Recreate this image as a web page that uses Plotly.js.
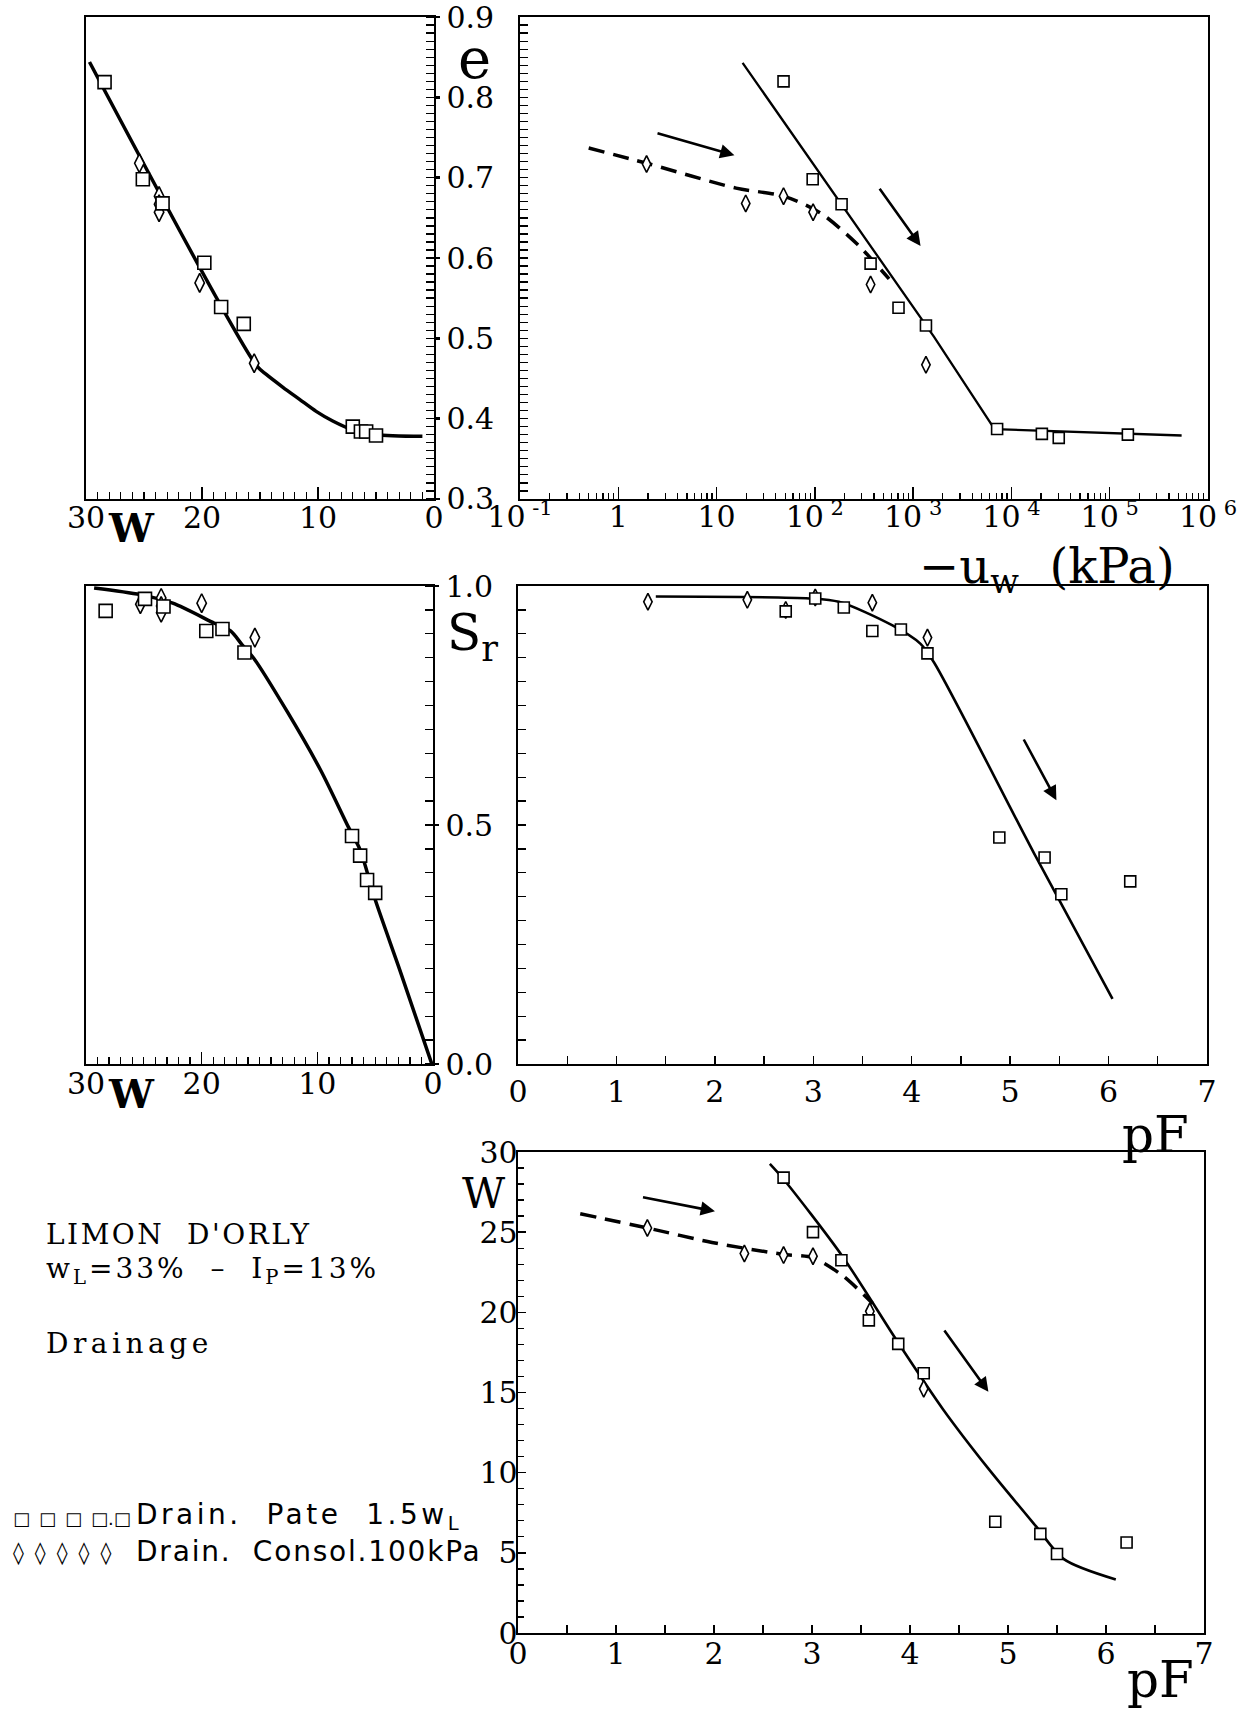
<!DOCTYPE html>
<html><head><meta charset="utf-8">
<script src="https://cdn.plot.ly/plotly-3.0.1.min.js"></script>
<style>html,body{margin:0;padding:0;background:#fff;} #chart{width:1247px;height:1712px;}</style>
</head><body><div id="chart"></div>
<script>
// ---------- Panel A : e vs w ----------
const A_sq_w = [28.4, 25.1, 23.4, 19.8, 18.35, 16.4, 7.0, 6.3, 5.85, 5.0];
const A_sq_e = [0.819, 0.698, 0.668, 0.594, 0.539, 0.518, 0.390, 0.384, 0.384, 0.379];
const A_di_w = [25.4, 23.7, 23.7, 23.7, 20.2, 15.5];
const A_di_e = [0.718, 0.677, 0.667, 0.657, 0.569, 0.469];
const A_fit_w = [29.7, 15.3, 14.46, 13.02, 11.59, 10.16, 8.73, 7.01, 5.01, 1.0];
const A_fit_e = [0.844, 0.466, 0.455, 0.439, 0.424, 0.409, 0.397, 0.386, 0.380, 0.378];
const e_tickvals = [0.3, 0.4, 0.5, 0.6, 0.7, 0.8, 0.9];
const e_ticktext = ["0.3", "0.4", "0.5", "0.6", "0.7", "0.8", "0.9"];
// ---------- Panel B : e vs -uw (kPa) ----------
const B_sq_u = [48, 95, 187, 369, 710, 1350, 7150, 20400, 30300, 153000];
const B_sq_e = [0.820, 0.698, 0.667, 0.593, 0.538, 0.516, 0.387, 0.381, 0.376, 0.380];
const B_di_u = [1.94, 19.8, 48, 96, 369, 1350];
const B_di_e = [0.717, 0.668, 0.677, 0.657, 0.567, 0.467];
const B_fit_u = [18.4, 1626, 6730, 539000];
const B_fit_e = [0.843, 0.502, 0.387, 0.379];
const B_dash_u = [0.50, 1.94, 15.8, 48, 114, 271, 569];
const B_dash_e = [0.737, 0.718, 0.687, 0.677, 0.656, 0.617, 0.574];
const B_tickvals = [0.1, 1, 10, 100, 1000, 10000, 100000, 1000000];
const B_ticktext = ["10<sup> -1</sup>", "1", "10", "10<sup> 2</sup>", "10<sup> 3</sup>", "10<sup> 4</sup>", "10<sup> 5</sup>", "10<sup> 6</sup>"];
// arrows [tail u, tail e, head u, head e]
const B_arrow1 = [2.42, 0.756, 15.2, 0.728];
const B_arrow2 = [445, 0.688, 1190, 0.615];
// ---------- Panel C : Sr vs w ----------
const C_sq_w = [28.3, 24.9, 23.3, 19.6, 18.2, 16.3, 7.0, 6.3, 5.7, 5.0];
const C_sq_sr = [0.948, 0.973, 0.957, 0.906, 0.910, 0.861, 0.477, 0.436, 0.385, 0.358];
const C_di_w = [25.3, 23.5, 23.5, 23.5, 20.0, 15.4];
const C_di_sr = [0.962, 0.975, 0.958, 0.944, 0.964, 0.892];
const C_fit_w = [29.3, 25.3, 22.5, 18.9, 17.5, 16.5, 15.5, 12.6, 9.7, 7.3, 6.3, 5.0, 2.86, 0.1];
const C_fit_sr = [0.996, 0.982, 0.964, 0.922, 0.906, 0.877, 0.849, 0.737, 0.614, 0.495, 0.448, 0.344, 0.196, 0.0];
const sr_tickvals = [0, 0.5, 1.0];
// ---------- Panel D : Sr vs pF ----------
const D_sq_pf = [2.72, 3.02, 3.31, 3.60, 3.89, 4.16, 4.89, 5.35, 5.52, 6.22];
const D_sq_sr = [0.947, 0.974, 0.955, 0.906, 0.909, 0.859, 0.474, 0.432, 0.355, 0.382];
const D_di_pf = [1.32, 2.33, 2.72, 3.02, 3.60, 4.16];
const D_di_sr = [0.967, 0.971, 0.950, 0.976, 0.965, 0.892];
const D_fit_pf = [1.40, 2.96, 3.26, 3.80, 4.09, 4.23, 5.25, 6.04];
const D_fit_sr = [0.978, 0.974, 0.967, 0.918, 0.879, 0.839, 0.438, 0.136];
const D_arrow = [5.13, 0.682, 5.47, 0.552];
// ---------- Panel E : W vs pF ----------
const E_sq_pf = [2.71, 3.01, 3.30, 3.58, 3.88, 4.14, 4.87, 5.33, 5.50, 6.21];
const E_sq_w = [28.4, 25.0, 23.25, 19.5, 18.03, 16.2, 6.94, 6.18, 4.93, 5.64];
const E_di_pf = [1.32, 2.31, 2.71, 3.01, 3.59, 4.14];
const E_di_w = [25.26, 23.67, 23.57, 23.5, 20.06, 15.23];
const E_fit_pf = [2.57, 2.71, 3.31, 3.88, 4.34, 4.80, 5.28, 5.57, 6.10];
const E_fit_w = [29.26, 28.3, 23.5, 18.1, 13.93, 10.25, 6.70, 4.61, 3.34];
const E_dash_pf = [0.635, 1.32, 1.98, 2.70, 3.01, 3.31, 3.62];
const E_dash_w = [26.15, 25.26, 24.36, 23.62, 23.4, 22.3, 20.55];
const E_arrow1 = [1.26, 27.2, 2.01, 26.3];
const E_arrow2 = [4.34, 18.96, 4.80, 15.04];

// ---------- helpers ----------
const SERIF = 'DejaVu Serif, Liberation Serif, serif';
const SANS = 'DejaVu Sans, Liberation Sans, sans-serif';
function markers(x, y, xa, ya, symbol, size) {
  return {type: 'scatter', mode: 'markers', x: x, y: y, xaxis: xa, yaxis: ya,
    marker: {symbol: symbol, size: size, color: '#fff', line: {color: '#000', width: 1.6}},
    showlegend: false, hoverinfo: 'skip', cliponaxis: false};
}
function curve(x, y, xa, ya, width, dash, shape) {
  return {type: 'scatter', mode: 'lines', x: x, y: y, xaxis: xa, yaxis: ya,
    line: {color: '#000', width: width, dash: dash || 'solid', shape: shape || 'linear', smoothing: 0.8},
    showlegend: false, hoverinfo: 'skip'};
}
function arrow(a, xr, yr, logx) {
  const f = v => logx ? Math.log10(v) : v;
  return {x: f(a[2]), y: a[3], ax: f(a[0]), ay: a[1], xref: xr, yref: yr, axref: xr, ayref: yr,
    showarrow: true, arrowhead: 2, arrowsize: 1.1, arrowwidth: 2.6, arrowcolor: '#000', text: ''};
}
const base = {showline: true, linecolor: '#000', linewidth: 2.4, mirror: true, showgrid: false, zeroline: false,
  ticklabeloverflow: 'allow',
  tickcolor: '#000', tickwidth: 1.5, tickfont: {family: SERIF, size: 30, color: '#000'}};
function ax(o) { return Object.assign({}, base, o); }
function minor(dtick, len, ticks) { return {ticks: ticks || 'inside', dtick: dtick, ticklen: len, tickcolor: '#000', tickwidth: 1.3, showgrid: false}; }

const dashPat = '16px,9px';
const data = [
  // A
  curve(A_fit_w, A_fit_e, 'x', 'y', 3.5, 'solid', 'spline'),
  markers(A_di_w, A_di_e, 'x', 'y', 'diamond-tall', 13.5),
  markers(A_sq_w, A_sq_e, 'x', 'y', 'square', 13),
  // B
  curve(B_fit_u, B_fit_e, 'x2', 'y2', 2.3),
  curve(B_dash_u, B_dash_e, 'x2', 'y2', 3.5, dashPat, 'spline'),
  markers(B_di_u, B_di_e, 'x2', 'y2', 'diamond-tall', 12),
  markers(B_sq_u, B_sq_e, 'x2', 'y2', 'square', 11),
  // C
  curve(C_fit_w, C_fit_sr, 'x3', 'y3', 3.5, 'solid', 'spline'),
  markers(C_di_w, C_di_sr, 'x3', 'y3', 'diamond-tall', 13.5),
  markers(C_sq_w, C_sq_sr, 'x3', 'y3', 'square', 13),
  // D
  curve(D_fit_pf, D_fit_sr, 'x4', 'y4', 2.6, 'solid', 'spline'),
  markers(D_di_pf, D_di_sr, 'x4', 'y4', 'diamond-tall', 12),
  markers(D_sq_pf, D_sq_sr, 'x4', 'y4', 'square', 11),
  // E
  curve(E_fit_pf, E_fit_w, 'x5', 'y5', 2.6, 'solid', 'spline'),
  curve(E_dash_pf, E_dash_w, 'x5', 'y5', 3.5, dashPat, 'spline'),
  markers(E_di_pf, E_di_w, 'x5', 'y5', 'diamond-tall', 12),
  markers(E_sq_pf, E_sq_w, 'x5', 'y5', 'square', 11)
];

const W = 1247, H = 1712;
const px = v => v / W, py = v => 1 - v / H;
function txt(text, x, y, size, opts) {
  return Object.assign({text: text, x: px(x), y: py(y), xref: 'paper', yref: 'paper', showarrow: false,
    xanchor: 'center', yanchor: 'middle', font: {family: SERIF, size: size, color: '#000'}}, opts || {});
}
const sansFont = {family: SANS, size: 28, color: '#000'};

const layout = {
  width: W, height: H, margin: {l: 0, r: 0, t: 0, b: 0}, paper_bgcolor: '#fff', plot_bgcolor: 'rgba(0,0,0,0)',
  showlegend: false,
  // A
  xaxis: ax({domain: [px(86), px(434)], anchor: 'y', range: [30, 0], tickvals: [30, 20, 10, 0], ticks: 'inside', ticklen: 12, ticklabelstandoff: -9, minor: minor(1, 7)}),
  yaxis: ax({domain: [py(499), py(17)], anchor: 'x', range: [0.2999, 0.9001], side: 'right', tickmode: 'array', tickvals: e_tickvals, ticktext: e_ticktext, ticks: 'outside', ticklen: 4, tickwidth: 2.5, minor: minor(0.01, 8)}),
  // B
  xaxis2: ax({domain: [px(520), px(1208)], anchor: 'y2', type: 'log', range: [-1, 6], tickmode: 'array', tickvals: B_tickvals, ticktext: B_ticktext, ticks: 'inside', ticklen: 12, ticklabelstandoff: -10, minor: minor('D1', 6)}),
  yaxis2: ax({domain: [py(499), py(17)], anchor: 'x2', range: [0.2999, 0.9001], tickmode: 'array', tickvals: e_tickvals, showticklabels: false, ticks: 'inside', ticklen: 8, minor: minor(0.01, 8)}),
  // C
  xaxis3: ax({domain: [px(86), px(433)], anchor: 'y3', range: [30, 0], tickvals: [30, 20, 10, 0], ticks: 'inside', ticklen: 12, ticklabelstandoff: -8, minor: minor(1, 7)}),
  yaxis3: ax({domain: [py(1064), py(586)], anchor: 'x3', range: [0, 1], side: 'right', tickmode: 'array', tickvals: sr_tickvals, tickformat: '.1f', ticks: 'outside', ticklen: 4, tickwidth: 2.5, minor: minor(0.05, 8)}),
  // D
  xaxis4: ax({domain: [px(518), px(1207)], anchor: 'y4', range: [0, 7], dtick: 1, ticks: 'inside', ticklen: 8, minor: minor(0.5, 8)}),
  yaxis4: ax({domain: [py(1064), py(586)], anchor: 'x4', range: [0, 1], tickmode: 'array', tickvals: sr_tickvals, showticklabels: false, ticks: 'inside', ticklen: 8, minor: minor(0.05, 8)}),
  // E
  xaxis5: ax({domain: [px(518), px(1204)], anchor: 'y5', range: [0, 7], dtick: 1, ticks: 'inside', ticklen: 8, ticklabelstandoff: -7, minor: minor(0.5, 8)}),
  yaxis5: ax({domain: [py(1633), py(1152)], anchor: 'x5', range: [0, 30], dtick: 5, ticks: 'inside', ticklen: 8, ticklabelstandoff: -8, minor: minor(1, 6)}),
  annotations: [
    arrow(B_arrow1, 'x2', 'y2', true),
    arrow(B_arrow2, 'x2', 'y2', true),
    arrow(D_arrow, 'x4', 'y4', false),
    arrow(E_arrow1, 'x5', 'y5', false),
    arrow(E_arrow2, 'x5', 'y5', false),
    txt('e', 474, 58, 56),
    txt('S<sub>r</sub>', 472, 636, 50),
    txt('\u2212u<sub>w</sub>  (kPa)', 1047, 570, 48),
    txt('<b>W</b>', 131, 528, 40),
    txt('<b>W</b>', 131, 1093, 40),
    txt('pF', 1155, 1135, 50),
    txt('pF', 1160, 1680, 50),
    txt('W', 484, 1193, 42),
    txt("<span style='letter-spacing:2.5px'>LIMON  D'ORLY</span>", 44, 1234, 28, {xanchor: 'left'}),
    txt("<span style='letter-spacing:3px'>w<sub>L</sub>=33%  \u2013  I<sub>P</sub>=13%</span>", 44, 1270, 28, {xanchor: 'left'}),
    txt("<span style='letter-spacing:4.5px'>Drainage</span>", 44, 1343, 28, {xanchor: 'left'}),
    txt("\u25A1\u2002\u25A1\u2002\u25A1\u2002\u25A1.\u25A1", 11, 1518, 18, {xanchor: 'left', font: {family: SANS, size: 18, color: '#000'}}),
    txt("<span style='letter-spacing:3.5px'>Drain.  Pate  1.5w<sub>L</sub></span>", 134, 1516, 28, {xanchor: 'left', font: sansFont}),
    txt("\u25CA\u2002\u25CA\u2002\u25CA\u2002\u25CA\u2002\u25CA", 11, 1553, 22, {xanchor: 'left', font: {family: SANS, size: 22, color: '#000'}}),
    txt("<span style='letter-spacing:1.8px'>Drain.  Consol.100kPa</span>", 134, 1551, 28, {xanchor: 'left', font: sansFont})
  ]
};

Plotly.newPlot('chart', data, layout, {staticPlot: true, displayModeBar: false});
</script></body></html>
